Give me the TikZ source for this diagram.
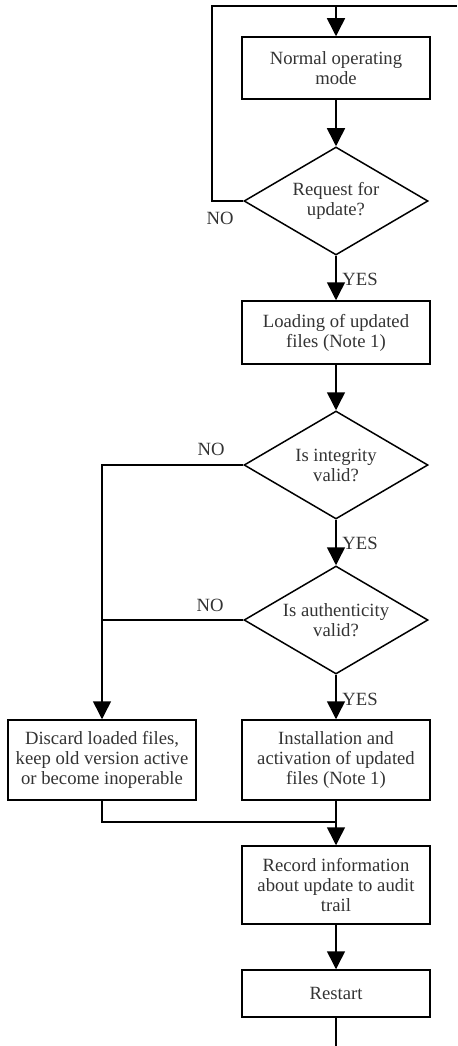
\documentclass[tikz,border=0pt]{standalone}
\usepackage{fontspec}
\setmainfont{Liberation Serif}
\usetikzlibrary{shapes.geometric,arrows.meta}

\begin{document}
\begin{tikzpicture}[x=0.6pt,y=-0.6pt,
        box/.style={draw, line width=0.9pt, minimum width=112.8pt, inner sep=0pt, align=center,
            text=black!80, font=\fontsize{11.2}{12}\selectfont},
        test/.style={draw, diamond, line width=0.9pt, aspect=1.7, minimum width=110.4pt,
            minimum height=64.8pt, inner sep=0pt, align=center, text=black!80,
            font=\fontsize{11.2}{12}\selectfont},
        flow/.style={line width=0.9pt, -{Triangle[length=10.8pt,width=10.8pt]}},
        lbl/.style={inner sep=0pt, text=black!80, font=\fontsize{11.2}{12}\selectfont}]
        \useasboundingbox (0,0) rectangle (457,1046);

        \node[box, minimum height=37.2pt] (normal) at (336,68) {Normal operating\\mode};
        \node[test] (request) at (336,201) {Request for\\update?};
        \node[box, minimum height=37.8pt] (loading) at (336,332.5) {Loading of updated\\files (Note 1)};
        \node[test] (integrity) at (336,465) {Is integrity\\valid?};
        \node[test] (authentic) at (336,620) {Is authenticity\\valid?};
        \node[box, minimum height=48pt] (discard) at (102,760) {Discard loaded files,\\keep old version active\\or become inoperable};
        \node[box, minimum height=48pt] (install) at (336,760) {Installation and\\activation of updated\\files (Note 1)};
        \node[box, minimum height=46.8pt] (record) at (336,885) {Record information\\about update to audit\\trail};
        \node[box, minimum height=28.2pt] (restart) at (336,993.5) {Restart};

        \node[lbl] (no1) at (220,218) {NO};
        \node[lbl] (yes1) at (360,279) {YES};
        \node[lbl] (no2) at (211,449) {NO};
        \node[lbl] (yes2) at (360,543) {YES};
        \node[lbl] (no3) at (210,605) {NO};
        \node[lbl] (yes3) at (360,699) {YES};

        \coordinate (loopcorner) at (212,6);
        \coordinate (topright) at (457,6);
        \coordinate (join) at (336,822);
        \coordinate (exit) at (336,1046);

        \draw[line width=0.9pt] (request.west) -| (loopcorner) -- (topright);
        \draw[flow] (normal.north |- loopcorner) -- (normal);
        \draw[flow] (normal) -- (request);
        \draw[flow] (request) -- (loading);
        \draw[flow] (loading) -- (integrity);
        \draw[flow] (integrity) -- (authentic);
        \draw[flow] (authentic) -- (install);
        \draw[flow] (integrity.west) -| (discard);
        \draw[line width=0.9pt] (authentic.west) -- (authentic.west -| discard);
        \draw[line width=0.9pt] (discard) |- (join);
        \draw[flow] (install) -- (record);
        \draw[flow] (record) -- (restart);
        \draw[line width=0.9pt] (restart) -- (exit);
    \end{tikzpicture}
\end{document}
